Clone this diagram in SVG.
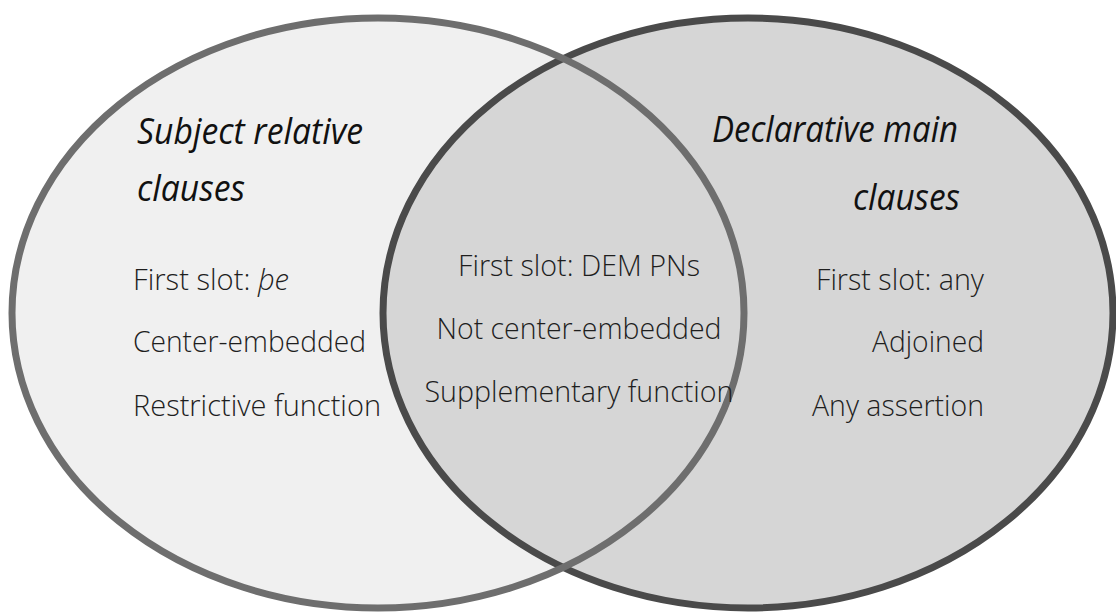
<svg xmlns="http://www.w3.org/2000/svg" width="1116" height="614" viewBox="0 0 1116 614">
  <style>
    .txt { font-family: "Open Sans", "Liberation Sans", sans-serif; font-weight: 300; font-size: 29px; fill: #1e1e1e; }
    .head { font-family: "Open Sans", "Liberation Sans", sans-serif; font-style: italic; font-weight: 400; font-size: 37px; fill: #111; }
    .mid { text-anchor: middle; }
    .end { text-anchor: end; }
  </style>
  <rect width="1116" height="614" fill="#ffffff"/>

  <!-- Set A: subject relative clauses (fill first) -->
  <g id="set-subject-relative">
    <ellipse cx="378" cy="313" rx="366" ry="295" fill="#f0f0f0"/>
  </g>

  <!-- Set B: declarative main clauses -->
  <g id="set-declarative-main">
    <ellipse cx="748" cy="313" rx="365" ry="295" fill="#d6d6d6" stroke="#4a4a4a" stroke-width="7"/>
  </g>

  <!-- outline of set A drawn over set B so both arcs show in the overlap -->
  <g id="set-subject-relative-outline">
    <ellipse cx="378" cy="313" rx="366" ry="295" fill="none" stroke="#6e6e6e" stroke-width="7"/>
  </g>

  <!-- labels of set A -->
  <g id="label-subject-relative">
    <text class="head" x="137" y="144" textLength="226" lengthAdjust="spacingAndGlyphs">Subject relative</text>
    <text class="head" x="137" y="201" textLength="108" lengthAdjust="spacingAndGlyphs">clauses</text>
    <text class="txt" x="133" y="290" textLength="156" lengthAdjust="spacingAndGlyphs">First slot: <tspan font-style="italic">þe</tspan></text>
    <text class="txt" x="133" y="352" textLength="233" lengthAdjust="spacingAndGlyphs">Center-embedded</text>
    <text class="txt" x="133" y="416" textLength="248" lengthAdjust="spacingAndGlyphs">Restrictive function</text>
  </g>

  <!-- labels of the overlap -->
  <g id="label-overlap">
    <text class="txt mid" x="579" y="276" textLength="242" lengthAdjust="spacingAndGlyphs">First slot: DEM PNs</text>
    <text class="txt mid" x="579" y="339" textLength="285" lengthAdjust="spacingAndGlyphs">Not center-embedded</text>
    <text class="txt mid" x="579" y="402" textLength="309" lengthAdjust="spacingAndGlyphs">Supplementary function</text>
  </g>

  <!-- labels of set B -->
  <g id="label-declarative-main">
    <text class="head" x="712" y="142" textLength="246" lengthAdjust="spacingAndGlyphs">Declarative main</text>
    <text class="head" x="853" y="210" textLength="107" lengthAdjust="spacingAndGlyphs">clauses</text>
    <text class="txt end" x="984" y="290" textLength="168" lengthAdjust="spacingAndGlyphs">First slot: any</text>
    <text class="txt end" x="984" y="352" textLength="112" lengthAdjust="spacingAndGlyphs">Adjoined</text>
    <text class="txt end" x="984" y="416" textLength="172" lengthAdjust="spacingAndGlyphs">Any assertion</text>
  </g>
</svg>
